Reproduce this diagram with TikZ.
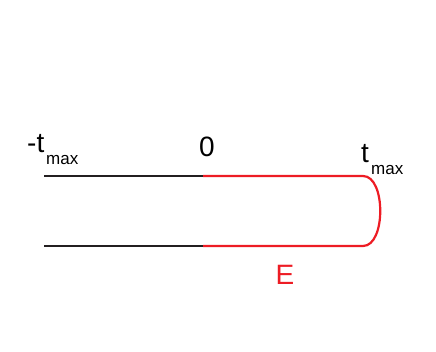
\documentclass[tikz,border=0pt]{standalone}
\usepackage{fontspec}
\setmainfont{Liberation Sans}
\definecolor{myred}{RGB}{237,28,36}
\definecolor{myblack}{RGB}{35,31,32}
\begin{document}
\begin{tikzpicture}[x=1pt,y=-1pt,
  blk/.style={draw=myblack,line width=2.2pt},
  rd/.style={draw=myred,line width=2.2pt},
  lbl/.style={inner sep=0pt,font=\fontsize{28}{28}\selectfont},
  sub/.style={inner sep=0pt,font=\fontsize{17}{17}\selectfont}]
\useasboundingbox (0,0) rectangle (436,352);
\coordinate (tl) at (44,176);
\coordinate (tm) at (203,176);
\coordinate (tr) at (363,176);
\coordinate (bl) at (44,246);
\coordinate (bm) at (203,246);
\coordinate (br) at (363,246);
\draw[blk] (tl) -- (tm);
\draw[blk] (bl) -- (bm);
\draw[rd] (tm) -- (tr) .. controls (386,176) and (386,246) .. (br) -- (bm);
\node[lbl,anchor=base west] (mt) at (27,153) {-t};
\node[sub,anchor=base west] (mtsub) at (46,165) {max};
\node[lbl,anchor=base] (zero) at (207,157) {0};
\node[lbl,anchor=base west] (pt) at (361,163) {t};
\node[sub,anchor=base west] (ptsub) at (371,175) {max};
\node[lbl,anchor=base,text=myred] (E) at (285,285) {E};
\end{tikzpicture}
\end{document}
